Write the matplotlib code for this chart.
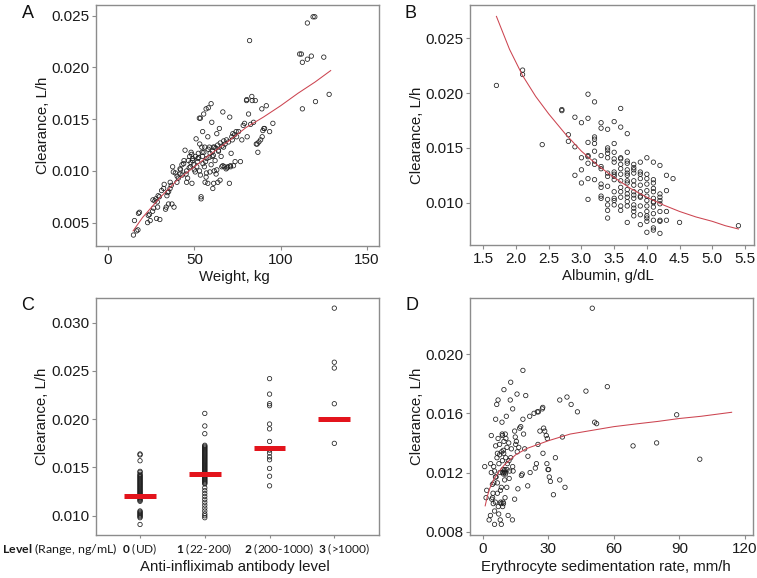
import matplotlib
matplotlib.use('Agg')
import matplotlib.pyplot as plt

plt.rcParams['font.family'] = ['Liberation Sans', 'DejaVu Sans']
plt.rcParams['mathtext.fontset'] = 'custom'
plt.rcParams['mathtext.rm'] = 'Lato'
plt.rcParams['mathtext.bf'] = 'Lato:bold'

# ---------------- Panel A: weight vs clearance ----------------
a_weight = [14.7, 15.3, 16.5, 17.3, 17.6, 18.2, 22.9, 24.4, 23.3, 25.8, 26.4, 27.1, 27.7, 28.5, 28.7,
            29.7, 30.0, 28.1, 31.0, 32.2, 33.3, 33.7, 34.1, 34.5, 35.1, 35.9, 36.0, 36.6, 37.0, 38.2,
            37.4, 37.8, 39.9, 40.7, 41.7, 41.7, 42.8, 43.8, 44.6, 45.2, 45.5, 46.1, 46.5, 47.3, 47.7,
            48.1, 48.6, 49.0, 49.6, 50.0, 50.6, 51.0, 51.4, 51.9, 52.3, 52.9, 53.5, 53.1, 53.5, 53.9,
            53.9, 54.3, 54.7, 54.8, 55.0, 55.4, 55.8, 56.0, 56.2, 56.8, 56.8, 57.2, 57.8, 57.8, 58.1,
            58.7, 59.1, 59.7, 59.7, 60.1, 60.3, 60.7, 61.0, 61.2, 61.6, 62.0, 62.6, 63.0, 63.6, 64.0,
            64.5, 64.9, 65.5, 65.9, 66.5, 66.9, 67.4, 67.8, 68.4, 68.6, 69.4, 69.8, 70.3, 70.5, 70.9,
            71.3, 71.7, 72.3, 72.7, 73.3, 73.6, 74.2, 75.6, 76.7, 77.5, 78.3, 79.1, 80.2, 80.4, 80.6,
            81.4, 82.0, 82.6, 83.3, 83.5, 84.3, 85.3, 85.9, 86.4, 86.8, 87.4, 88.4, 89.3, 89.1, 89.7,
            90.3, 90.7, 91.7, 93.6, 95.5, 115.5, 118.8, 119.8, 111.0, 112.0, 112.6, 115.5, 117.8, 125.0,
            112.6, 120.2, 128.1, 44.0, 48.5, 52.0, 55.5, 58.0, 60.5, 62.5, 63.5, 65.0, 66.0, 67.0,
            50.5, 53.0, 57.0, 59.0, 61.5, 63.0, 45.5, 47.0, 49.0, 42.0, 40.0, 58.5, 61.0, 72.0, 74.5,
            71.0, 69.0, 66.5, 64.0, 56.5, 54.5, 52.5, 48.0, 43.0, 39.0, 32.5, 29.0, 26.0, 24.0, 35.0]
a_clear = [0.0038, 0.0052, 0.0042, 0.0043, 0.0059, 0.0060, 0.0050, 0.0052, 0.0057, 0.0061, 0.0064, 0.0071,
           0.0073, 0.0070, 0.0065, 0.0075, 0.0053, 0.0054, 0.0081, 0.0083, 0.0063, 0.0065, 0.0076, 0.0079,
           0.0080, 0.0083, 0.0089, 0.0086, 0.0068, 0.0065, 0.0104, 0.0099, 0.0089, 0.0093, 0.0102, 0.0097,
           0.0106, 0.0107, 0.0120, 0.0097, 0.0089, 0.0093, 0.0110, 0.0114, 0.0104, 0.0118, 0.0088, 0.0110,
           0.0106, 0.0101, 0.0114, 0.0131, 0.0104, 0.0109, 0.0117, 0.0151, 0.0151, 0.0126, 0.0096, 0.0075,
           0.0073, 0.0123, 0.0114, 0.0138, 0.0107, 0.0155, 0.0104, 0.0123, 0.0089, 0.0160, 0.0094, 0.0112,
           0.0133, 0.0088, 0.0161, 0.0123, 0.0117, 0.0165, 0.0106, 0.0147, 0.0114, 0.0083, 0.0123, 0.0088,
           0.0123, 0.0110, 0.0097, 0.0136, 0.0089, 0.0120, 0.0141, 0.0091, 0.0114, 0.0104, 0.0157, 0.0123,
           0.0104, 0.0126, 0.0102, 0.0130, 0.0104, 0.0128, 0.0088, 0.0152, 0.0105, 0.0117, 0.0133, 0.0136,
           0.0105, 0.0135, 0.0109, 0.0138, 0.0138, 0.0109, 0.0130, 0.0144, 0.0146, 0.0168, 0.0169, 0.0133,
           0.0155, 0.0226, 0.0145, 0.0172, 0.0168, 0.0147, 0.0168, 0.0126, 0.0126, 0.0118, 0.0128, 0.0130,
           0.0133, 0.0160, 0.0139, 0.0141, 0.0141, 0.0163, 0.0138, 0.0146, 0.0243, 0.0249, 0.0249, 0.0213,
           0.0213, 0.0205, 0.0208, 0.0211, 0.0210, 0.0160, 0.0167, 0.0174, 0.0110, 0.0116, 0.0112, 0.0118,
           0.0121, 0.0119, 0.0122, 0.0125, 0.0127, 0.0124, 0.0129, 0.0099, 0.0100, 0.0098, 0.0099, 0.0100,
           0.0101, 0.0100, 0.0103, 0.0112, 0.0101, 0.0095, 0.0113, 0.0115, 0.0130, 0.0133, 0.0104, 0.0103,
           0.0105, 0.0119, 0.0109, 0.0118, 0.0113, 0.0108, 0.0096, 0.0098, 0.0087, 0.0076, 0.0072, 0.0058,
           0.0068]
a_fit_x = [14.5, 20, 30, 40, 50, 60, 70, 80, 90, 100, 110, 120, 129]
a_fit_y = [0.0042, 0.0055, 0.0074, 0.0091, 0.0104, 0.0117, 0.0129, 0.0142, 0.0152, 0.0163, 0.0175, 0.0186, 0.0197]

# ---------------- Panel B: albumin vs clearance ----------------
b_albumin = ([1.7] + [2.1] * 2 + [2.4] + [2.7] * 2 + [2.8] * 2 + [2.9] * 3 + [3.0] * 4 + [3.1] * 8 +
             [3.2] * 8 + [3.3] * 9 + [3.4] * 12 + [3.5] * 13 + [3.6] * 13 + [3.7] * 15 + [3.8] * 13 +
             [3.9] * 11 + [4.0] * 13 + [4.1] * 13 + [4.2] * 9 + [4.3] * 4 + [4.4] + [4.5] + [5.4])
b_clear = [0.0207,
           0.0221, 0.0217,
           0.0153,
           0.0185, 0.0184,
           0.0162, 0.0156,
           0.0178, 0.0151, 0.0125,
           0.0173, 0.0141, 0.0130, 0.0118,
           0.0199, 0.0177, 0.0155, 0.0143, 0.0142, 0.0136, 0.0122, 0.0103,
           0.0192, 0.0160, 0.0158, 0.0154, 0.0147, 0.0138, 0.0135, 0.0121,
           0.0173, 0.0168, 0.0143, 0.0133, 0.0131, 0.0117, 0.0114, 0.0106, 0.0104,
           0.0167, 0.0150, 0.0148, 0.0145, 0.0141, 0.0127, 0.0124, 0.0115, 0.0103, 0.0098, 0.0093, 0.0086,
           0.0174, 0.0154, 0.0146, 0.0140, 0.0137, 0.0128, 0.0126, 0.0124, 0.0121, 0.0110, 0.0104, 0.0102, 0.0098,
           0.0186, 0.0169, 0.0141, 0.0140, 0.0135, 0.0131, 0.0126, 0.0120, 0.0114, 0.0110, 0.0105, 0.0097, 0.0093,
           0.0163, 0.0146, 0.0138, 0.0136, 0.0130, 0.0127, 0.0125, 0.0120, 0.0118, 0.0112, 0.0108, 0.0105, 0.0101, 0.0097, 0.0082,
           0.0135, 0.0132, 0.0130, 0.0127, 0.0120, 0.0116, 0.0110, 0.0107, 0.0104, 0.0098, 0.0095, 0.0092, 0.0088,
           0.0137, 0.0128, 0.0126, 0.0122, 0.0116, 0.0110, 0.0106, 0.0105, 0.0097, 0.0089, 0.0080,
           0.0141, 0.0126, 0.0122, 0.0117, 0.0111, 0.0106, 0.0102, 0.0097, 0.0092, 0.0088, 0.0086, 0.0083, 0.0073,
           0.0137, 0.0121, 0.0118, 0.0113, 0.0110, 0.0104, 0.0100, 0.0101, 0.0096, 0.0090, 0.0084, 0.0077, 0.0075,
           0.0134, 0.0108, 0.0105, 0.0102, 0.0099, 0.0092, 0.0084, 0.0083, 0.0072,
           0.0125, 0.0111, 0.0092, 0.0084,
           0.0122,
           0.0082,
           0.0079]
b_fit_x = [1.7, 1.9, 2.1, 2.3, 2.5, 2.75, 3.0, 3.25, 3.5, 3.75, 4.0, 4.25, 4.5, 4.75, 5.0, 5.2, 5.4]
b_fit_y = [0.0270, 0.0240, 0.0216, 0.0197, 0.0181, 0.0163, 0.0147, 0.0134, 0.0123, 0.0113, 0.0105,
           0.0098, 0.0092, 0.0087, 0.0083, 0.0079, 0.0076]

# ---------------- Panel C: antibody level vs clearance ----------------
c_levels = [0, 1, 2, 3]
c_level0 = [0.0164, 0.0163, 0.0157, 0.0146, 0.0145, 0.0143, 0.0142, 0.0141, 0.0140, 0.0139, 0.0138,
            0.0137, 0.0136, 0.0135, 0.0134, 0.0133, 0.0132, 0.0131, 0.0130, 0.0129, 0.0128, 0.0127,
            0.0126, 0.0125, 0.0124, 0.0123, 0.0122, 0.0121, 0.0120, 0.0119, 0.0118, 0.0117, 0.0116,
            0.0115, 0.0105, 0.0104, 0.0103, 0.0102, 0.0101, 0.0100, 0.0099, 0.0098, 0.0091]
c_level1 = [0.0206, 0.0193, 0.0185, 0.0173, 0.0172, 0.0171, 0.0170, 0.0169, 0.0168, 0.0167, 0.0166,
            0.0165, 0.0164, 0.0163, 0.0162, 0.0161, 0.0160, 0.0159, 0.0158, 0.0157, 0.0156, 0.0155,
            0.0154, 0.0153, 0.0152, 0.0151, 0.0150, 0.0149, 0.0148, 0.0147, 0.0146, 0.0145, 0.0144,
            0.0143, 0.0142, 0.0141, 0.0140, 0.0139, 0.0138, 0.0137, 0.0136, 0.0135, 0.0134, 0.0133,
            0.0129, 0.0126, 0.0123, 0.0120, 0.0117, 0.0114, 0.0111, 0.0108, 0.0105, 0.0102, 0.0100, 0.0098]
c_level2 = [0.0242, 0.0226, 0.0216, 0.0214, 0.0195, 0.0190, 0.0177, 0.0168, 0.0165, 0.0161, 0.0158,
            0.0149, 0.0141, 0.0131]
c_level3 = [0.0315, 0.0259, 0.0253, 0.0216, 0.0175]
c_means = [0.0121, 0.0143, 0.0170, 0.0200]
c_tick_bold = ['0', '1', '2', '3']
c_tick_range = ['(UD)', '(22-200)', '(200-1000)', '(>1000)']

# ---------------- Panel D: ESR vs clearance ----------------
d_esr = [0.8, 1.7, 1.4, 2.8, 3.4, 3.8, 3.5, 3.8, 4.3, 4.6, 4.7, 5.3, 5.3, 5.7, 4.9, 5.3, 5.7, 5.8, 5.8,
         6.3, 6.4, 6.6, 6.6, 6.6, 6.9, 6.9, 7.2, 7.3, 7.6, 7.6, 7.8, 7.9, 8.1, 8.3, 8.4, 8.4, 8.6, 8.7,
         8.8, 8.9, 8.9, 9.2, 9.2, 9.4, 9.3, 9.5, 9.6, 9.6, 9.8, 10.0, 9.9, 10.1, 10.2, 10.4, 10.5, 10.7,
         10.9, 11.0, 11.2, 11.5, 11.8, 11.9, 12.2, 12.5, 12.7, 12.7, 13.0, 13.5, 13.6, 13.6, 13.8, 14.5,
         14.5, 14.8, 15.0, 15.3, 15.6, 15.7, 16.0, 16.4, 16.8, 17.3, 17.6, 18.0, 18.3, 18.3, 18.6, 19.1,
         19.6, 20.5, 20.6, 21.4, 21.6, 23.4, 24.0, 24.5, 24.9, 25.4, 25.2, 26.1, 27.2, 27.4, 27.5, 27.8,
         28.3, 29.0, 29.3, 29.5, 29.8, 30.1, 30.4, 30.9, 32.3, 33.2, 35.2, 35.2, 36.4, 37.6, 38.5, 40.4,
         43.3, 47.2, 50.1, 51.2, 52.1, 57.0, 68.8, 79.6, 88.8, 99.4, 4.0, 4.4, 9.0, 9.4, 10.0, 8.0, 7.0,
         6.0, 9.0, 10.3, 11.0, 12.0, 5.0]
d_clear = [0.0124, 0.0108, 0.0103, 0.0088, 0.0091, 0.0145, 0.0126, 0.0120, 0.0112, 0.0106, 0.0099, 0.0085,
           0.0094, 0.0100, 0.0124, 0.0121, 0.0117, 0.0138, 0.0156, 0.0166, 0.0130, 0.0133, 0.0113, 0.0106,
           0.0169, 0.0143, 0.0092, 0.0126, 0.0139, 0.0132, 0.0120, 0.0088, 0.0100, 0.0099, 0.0110, 0.0085,
           0.0134, 0.0154, 0.0146, 0.0145, 0.0128, 0.0122, 0.0100, 0.0099, 0.0135, 0.0133, 0.0176, 0.0141,
           0.0121, 0.0122, 0.0115, 0.0103, 0.0146, 0.0130, 0.0143, 0.0158, 0.0110, 0.0137, 0.0126, 0.0091,
           0.0140, 0.0128, 0.0121, 0.0169, 0.0181, 0.0130, 0.0136, 0.0088, 0.0163, 0.0124, 0.0121, 0.0148,
           0.0102, 0.0144, 0.0139, 0.0141, 0.0173, 0.0134, 0.0109, 0.0137, 0.0150, 0.0151, 0.0118, 0.0119,
           0.0189, 0.0156, 0.0146, 0.0136, 0.0172, 0.0111, 0.0131, 0.0158, 0.0120, 0.0160, 0.0123, 0.0126,
           0.0161, 0.0161, 0.0139, 0.0148, 0.0163, 0.0164, 0.0133, 0.0150, 0.0148, 0.0145, 0.0126, 0.0143,
           0.0122, 0.0122, 0.0117, 0.0114, 0.0105, 0.0130, 0.0169, 0.0115, 0.0144, 0.0110, 0.0171, 0.0166,
           0.0161, 0.0175, 0.0231, 0.0154, 0.0153, 0.0178, 0.0138, 0.0140, 0.0159, 0.0129, 0.0102, 0.0103,
           0.0120, 0.0119, 0.0120, 0.0108, 0.0097, 0.0117, 0.0097, 0.0119, 0.0122, 0.0116, 0.0113]
d_fit_x = [1, 2, 3, 5, 7.5, 10, 15, 20, 30, 40, 50, 60, 70, 80, 90, 100, 114]
d_fit_y = [0.00975, 0.0104, 0.0109, 0.01155, 0.0121, 0.01255, 0.0132, 0.01362, 0.01415, 0.0146, 0.01485,
           0.0151, 0.01528, 0.01545, 0.01565, 0.0158, 0.01607]

# ---------------- figure ----------------
W, H = 757, 578
fig = plt.figure(figsize=(W / 100, H / 100), dpi=100)


def add_ax(l, t, r, b):
    return fig.add_axes([l / W, 1 - b / H, (r - l) / W, (b - t) / H])


FRAME = '#8c8c8c'
PT = dict(s=10, facecolors='none', edgecolors='#1e1e1e', linewidths=0.55, zorder=3)
LINE = dict(color='#cc4450', lw=0.75, zorder=4)
TICKSZ = 11
LABSZ = 10.8


def style(ax):
    for s in ax.spines.values():
        s.set_color(FRAME)
        s.set_linewidth(1.0)
    ax.tick_params(direction='out', length=3, width=0.8, color=FRAME,
                   labelsize=TICKSZ, labelcolor='#1a1a1a', pad=2)


def labels(ax, xl, yl, xly=-0.124, ylx=-0.188, yly=0.5, xlx=0.49):
    ax.set_xlabel(xl, fontsize=LABSZ, color='#1a1a1a', va='center')
    ax.set_ylabel(yl, fontsize=LABSZ, color='#1a1a1a', va='center')
    ax.xaxis.set_label_coords(xlx, xly)
    ax.yaxis.set_label_coords(ylx, yly)


# A
axA = add_ax(96, 5, 379, 246)
axA.scatter(a_weight, a_clear, **PT)
axA.plot(a_fit_x, a_fit_y, **LINE)
axA.set_xlim(-7, 157)
axA.set_ylim(0.00274, 0.02604)
axA.set_xticks([0, 50, 100, 150])
axA.set_yticks([0.005, 0.010, 0.015, 0.020, 0.025])
axA.set_yticklabels(['0.005', '0.010', '0.015', '0.020', '0.025'])
style(axA)
labels(axA, 'Weight, kg', 'Clearance, L/h', xly=-0.128)

# B
axB = add_ax(470, 5, 754, 245)
axB.scatter(b_albumin, b_clear, **PT)
axB.plot(b_fit_x, b_fit_y, **LINE)
axB.set_xlim(1.296, 5.638)
axB.set_ylim(0.00614, 0.02804)
axB.set_xticks([1.5, 2.0, 2.5, 3.0, 3.5, 4.0, 4.5, 5.0, 5.5])
axB.set_xticklabels(['1.5', '2.0', '2.5', '3.0', '3.5', '4.0', '4.5', '5.0', '5.5'])
axB.set_yticks([0.010, 0.015, 0.020, 0.025])
axB.set_yticklabels(['0.010', '0.015', '0.020', '0.025'])
style(axB)
labels(axB, 'Albumin, g/dL', 'Clearance, L/h', xly=-0.13, ylx=-0.186, yly=0.455, xlx=0.486)

# C
axC = add_ax(96, 298, 379, 535)
for lev, vals in zip(c_levels, [c_level0, c_level1, c_level2, c_level3]):
    axC.scatter([lev] * len(vals), vals, **PT)
axC.hlines(c_means, [l - 0.245 for l in c_levels], [l + 0.245 for l in c_levels],
           colors='#e3141c', lw=3.6, zorder=5)
axC.set_xlim(-0.68, 3.69)
axC.set_ylim(0.00801, 0.03255)
axC.set_xticks(c_levels)
axC.set_xticklabels([])
axC.set_yticks([0.010, 0.015, 0.020, 0.025, 0.030])
axC.set_yticklabels(['0.010', '0.015', '0.020', '0.025', '0.030'])
style(axC)
axC.tick_params(axis='x', length=2.2)
# category labels (label centres sit slightly right of the ticks for levels 2 and 3)
c_label_shift = [0.0, -0.01, 0.145, 0.15]
for lev, b, r, sh in zip(c_levels, c_tick_bold, c_tick_range, c_label_shift):
    axC.text(lev + sh, -0.059, r'$\mathbf{%s}$ %s' % (b, r), transform=axC.get_xaxis_transform(),
             family='Lato', fontsize=8.6, ha='center', va='center', color='#1a1a1a')
labels(axC, 'Anti-infliximab antibody level', 'Clearance, L/h', xly=-0.135, ylx=-0.192)
fig.text(2 / W, 1 - 549 / H, r'$\mathbf{Level}$ (Range, ng/mL)', family='Lato', fontsize=8.9,
         ha='left', va='center', color='#1a1a1a')

# D
axD = add_ax(470, 298, 753, 535)
axD.scatter(d_esr, d_clear, **PT)
axD.plot(d_fit_x, d_fit_y, **LINE)
axD.set_xlim(-5.96, 123.8)
axD.set_ylim(0.00778, 0.02379)
axD.set_xticks([0, 30, 60, 90, 120])
axD.set_yticks([0.008, 0.012, 0.016, 0.020])
axD.set_yticklabels(['0.008', '0.012', '0.016', '0.020'])
style(axD)
labels(axD, 'Erythrocyte sedimentation rate, mm/h', 'Clearance, L/h', xly=-0.137, ylx=-0.187, xlx=0.479)

# panel letters
for txt, x, y in [('A', 27.5, 14), ('B', 411, 14), ('C', 27.5, 306), ('D', 412, 306)]:
    fig.text(x / W, 1 - y / H, txt, fontsize=13, ha='center', va='center', color='#111111')

fig.savefig('out.png', dpi=100)
